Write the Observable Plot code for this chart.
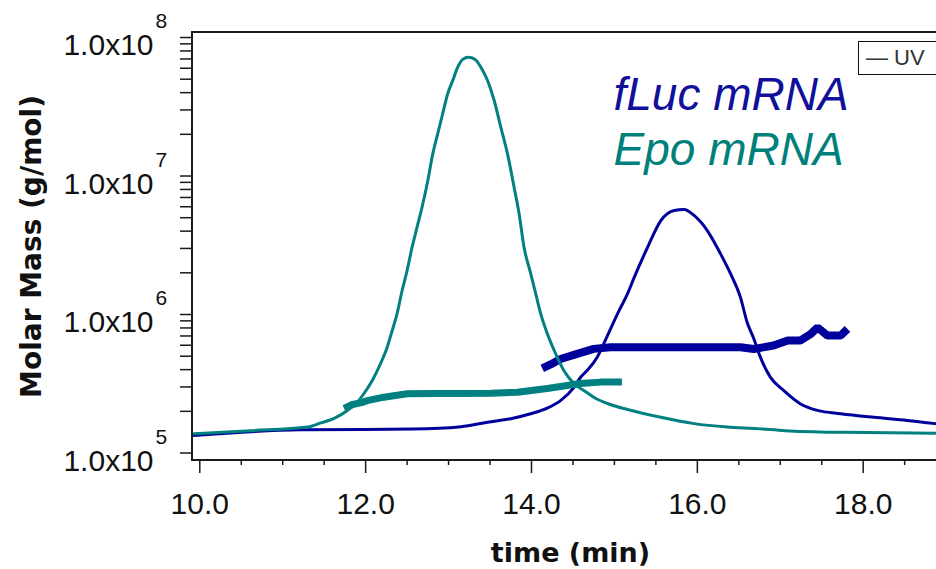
<!DOCTYPE html>
<html>
<head>
<meta charset="utf-8">
<script src="https://cdn.jsdelivr.net/npm/d3@7"></script>
<script src="https://cdn.jsdelivr.net/npm/@observablehq/plot@0.6"></script>
<style>
  html, body { margin: 0; padding: 0; background: #fff; overflow: hidden; }
  #wrap { position: relative; width: 936px; height: 569px; }
  #legend {
    position: absolute; left: 858px; top: 41px; width: 90px; height: 34px;
    border: 1.5px solid #111; background: #fff;
    font-family: "Liberation Sans", Arial, sans-serif; font-size: 22px; color: #333;
    line-height: 32px; padding-left: 7px; box-sizing: border-box;
  }
</style>
</head>
<body>
<div id="wrap"><div id="legend">— UV</div></div>
<script>
// ---- data (time in min, molar mass in g/mol) ----
const epoUVTime = [9.93, 10.62, 11.30, 11.46, 11.62, 11.78, 11.90, 11.98, 12.08, 12.18,
  12.26, 12.32, 12.38, 12.44, 12.50, 12.56, 12.62, 12.68, 12.75, 12.81,
  12.87, 12.93, 12.99, 13.05, 13.11, 13.17, 13.24, 13.32, 13.39, 13.47,
  13.55, 13.63, 13.71, 13.79, 13.85, 13.91, 13.99, 14.05, 14.11, 14.19,
  14.29, 14.39, 14.51, 14.63, 14.75, 14.95, 15.16, 15.56, 15.96, 16.36,
  16.72, 17.06, 17.76, 18.88];
const epoUV = [1.38e5, 1.45e5, 1.54e5, 1.65e5, 1.78e5, 2.03e5, 2.33e5, 2.69e5, 3.34e5, 4.43e5,
  5.81e5, 7.66e5, 1.02e6, 1.49e6, 2.08e6, 3.06e6, 4.27e6, 5.95e6, 9.28e6, 1.45e7,
  2.03e7, 2.83e7, 3.94e7, 4.89e7, 6.10e7, 6.95e7, 7.20e7, 6.95e7, 6.10e7, 4.89e7,
  3.51e7, 2.25e7, 1.45e7, 8.30e6, 5.36e6, 3.06e6, 1.98e6, 1.42e6, 1.02e6, 7.29e5,
  5.23e5, 3.94e5, 3.18e5, 2.83e5, 2.53e5, 2.24e5, 2.06e5, 1.81e5, 1.63e5, 1.54e5,
  1.50e5, 1.45e5, 1.41e5, 1.39e5];

const flucUVTime = [9.93, 11.22, 12.57, 13.15, 13.47, 13.75, 13.99, 14.19, 14.35, 14.51,
  14.59, 14.67, 14.79, 14.87, 15.05, 15.16, 15.24, 15.40, 15.56, 15.72,
  15.84, 15.96, 16.12, 16.28, 16.40, 16.52, 16.60, 16.68, 16.76, 16.88,
  17.04, 17.24, 17.45, 17.73, 18.13, 18.53, 18.87];
const flucUV = [1.34e5, 1.47e5, 1.49e5, 1.55e5, 1.67e5, 1.77e5, 1.92e5, 2.11e5, 2.39e5, 2.97e5,
  3.51e5, 3.94e5, 4.89e5, 6.14e5, 1.05e6, 1.42e6, 1.86e6, 3.06e6, 4.77e6, 5.64e6,
  5.73e6, 5.19e6, 4.04e6, 2.74e6, 1.97e6, 1.33e6, 8.80e5, 6.71e5, 4.92e5, 3.53e5,
  2.83e5, 2.27e5, 2.03e5, 1.92e5, 1.81e5, 1.72e5, 1.63e5];

const epoMMTime = [11.74, 11.84, 11.95, 12.02, 12.22, 12.50, 12.82, 13.18, 13.51, 13.83, 14.19, 14.59, 14.83, 15.09];
const epoMM = [2.10e5, 2.24e5, 2.31e5, 2.39e5, 2.53e5, 2.68e5, 2.69e5, 2.69e5, 2.70e5, 2.75e5, 2.92e5, 3.18e5, 3.25e5, 3.25e5];

const flucMMTime = [14.13, 14.23, 14.35, 14.55, 14.75, 14.95, 15.56, 16.16, 16.52, 16.68, 16.92, 17.09, 17.24, 17.37, 17.45, 17.57, 17.73, 17.81];
const flucMM = [4.08e5, 4.36e5, 4.77e5, 5.20e5, 5.65e5, 5.81e5, 5.81e5, 5.81e5, 5.81e5, 5.64e5, 5.97e5, 6.49e5, 6.49e5, 7.26e5, 8.06e5, 7.05e5, 7.05e5, 7.88e5];

const xMajor = [10, 12, 14, 16, 18];
const xTickLabels = ["10.0", "12.0", "14.0", "16.0", "18.0"];
const xMinor = [10.5, 11, 11.5, 12.5, 13, 13.5, 14.5, 15, 15.5, 16.5, 17, 17.5, 18.5];
const yDecades = [1e5, 1e6, 1e7, 1e8];
const yTickMantissa = ["1.0x10", "1.0x10", "1.0x10", "1.0x10"];
const yTickExponent = ["5", "6", "7", "8"];
const yMinor = [2e5, 3e5, 4e5, 5e5, 6e5, 7e5, 8e5, 9e5, 2e6, 3e6, 4e6, 5e6, 6e6, 7e6, 8e6, 9e6,
  2e7, 3e7, 4e7, 5e7, 6e7, 7e7, 8e7, 9e7];
const annotations = ["fLuc mRNA", "Epo mRNA"];
const xTitle = ["time (min)"];
const yTitle = ["Molar Mass (g/mol)"];

// ---- build tables ----
const zip = (t, v) => t.map((d, i) => ({t: d, v: v[i]}));
const epoUVData = zip(epoUVTime, epoUV);
const flucUVData = zip(flucUVTime, flucUV);
const epoMMData = zip(epoMMTime, epoMM);
const flucMMData = zip(flucMMTime, flucMM);

const NAVY = "#00009c";
const TEAL = "#008080";
const SANS = "'Liberation Sans', Arial, sans-serif";
const BOLD = "'DejaVu Sans', Verdana, sans-serif";

const frameMark = (index, scales, values, dims) => {
  const {width, height, marginLeft, marginTop, marginBottom} = dims;
  const g = d3.create("svg:g");
  g.append("path")
    .attr("d", `M${width + 5},${marginTop}H${marginLeft}V${height - marginBottom}H${width + 5}`)
    .attr("fill", "none").attr("stroke", "#1a1a1a").attr("stroke-width", 2);
  return g.node();
};

const chart = Plot.plot({
  width: 936,
  height: 569,
  marginLeft: 192,
  marginRight: 0,
  marginTop: 32,
  marginBottom: 109,
  style: {background: "#fff", fontFamily: SANS},
  x: {domain: [9.912, 18.884], label: null},
  y: {type: "log", domain: [8.83e4, 1.087e8], label: null},
  marks: [
    Plot.axisX({ticks: xMinor, tickSize: 5, tickFormat: () => "", label: null, color: "#1a1a1a", strokeWidth: 1.5}),
    Plot.axisX({ticks: xMajor, tickSize: 13, tickFormat: () => "", label: null, color: "#1a1a1a", strokeWidth: 1.5}),
    Plot.axisY({ticks: [...yDecades, ...yMinor], tickSize: 12, tickFormat: () => "", label: null, color: "#1a1a1a", strokeWidth: 1.5}),
    Plot.text(xMajor, {x: d => d, text: (d, i) => xTickLabels[i], frameAnchor: "bottom", dy: 44, lineAnchor: "middle", fontSize: 30, fill: "#111"}),
    Plot.text(yDecades, {y: d => d, text: (d, i) => yTickMantissa[i], frameAnchor: "left", dx: -39, dy: 8, textAnchor: "end", lineAnchor: "middle", fontSize: 30, fill: "#111"}),
    Plot.text(yDecades, {y: d => d, text: (d, i) => yTickExponent[i], frameAnchor: "left", dx: -37, dy: -16, textAnchor: "start", lineAnchor: "middle", fontSize: 21, fill: "#111"}),
    Plot.text(xTitle, {frameAnchor: "bottom", dx: 6, dy: 93, textAnchor: "middle", lineAnchor: "middle", fontSize: 27, fontWeight: "bold", fontFamily: BOLD, fill: "#111"}),
    Plot.text(yTitle, {frameAnchor: "left", dx: -160, rotate: -90, textAnchor: "middle", lineAnchor: "middle", fontSize: 28, fontWeight: "bold", fontFamily: BOLD, fill: "#111"}),
    Plot.line(flucUVData, {x: "t", y: "v", stroke: NAVY, strokeWidth: 3, curve: "monotone-x"}),
    Plot.line(flucMMData, {x: "t", y: "v", stroke: NAVY, strokeWidth: 8, strokeLinejoin: "miter", strokeLinecap: "butt"}),
    Plot.line(epoUVData, {x: "t", y: "v", stroke: TEAL, strokeWidth: 3, curve: "monotone-x"}),
    Plot.line(epoMMData, {x: "t", y: "v", stroke: TEAL, strokeWidth: 7, strokeLinejoin: "miter", strokeLinecap: "butt"}),
    Plot.text([annotations[0]], {frameAnchor: "top-left", dx: 421, dy: 77, textAnchor: "start", lineAnchor: "bottom", fontSize: 46, fontStyle: "italic", fill: "#10109a"}),
    Plot.text([annotations[1]], {frameAnchor: "top-left", dx: 421, dy: 132, textAnchor: "start", lineAnchor: "bottom", fontSize: 46, fontStyle: "italic", fill: "#00807a"}),
    frameMark
  ]
});
document.getElementById("wrap").insertBefore(chart, document.getElementById("legend"));
</script>
</body>
</html>
